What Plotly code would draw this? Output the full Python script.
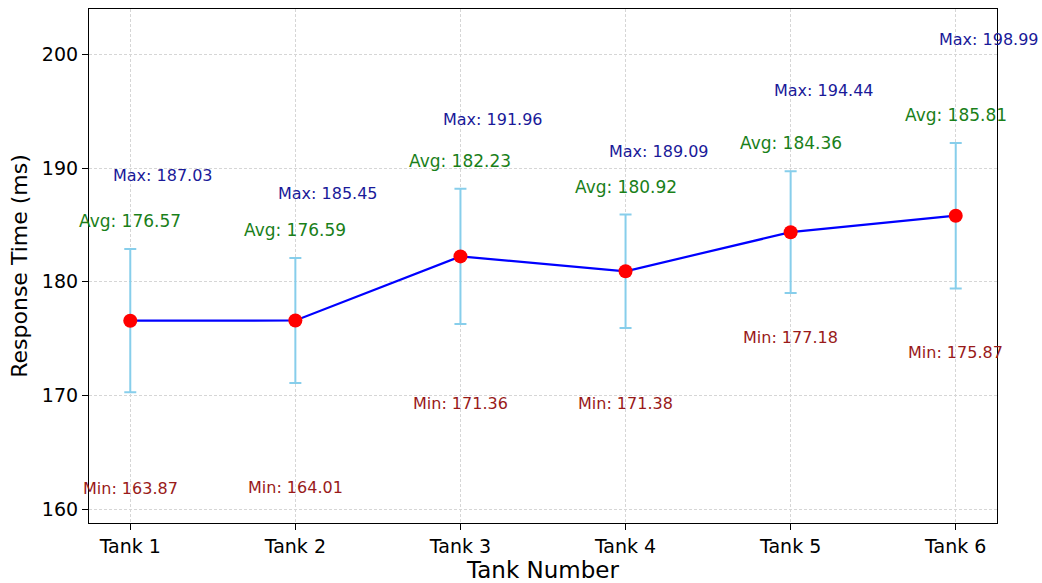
import plotly.graph_objects as go

tanks = ["Tank 1", "Tank 2", "Tank 3", "Tank 4", "Tank 5", "Tank 6"]
avg_vals = [176.57, 176.59, 182.23, 180.92, 184.36, 185.81]
std_vals = [6.3, 5.5, 5.95, 5.0, 5.36, 6.4]
max_vals = [187.03, 185.45, 191.96, 189.09, 194.44, 198.99]
min_vals = [163.87, 164.01, 171.36, 171.38, 177.18, 175.87]
y_ticks = [160, 170, 180, 190, 200]

xs = list(range(len(tanks)))
FONT = "DejaVu Sans"

fig = go.Figure()
fig.add_trace(go.Scatter(
    x=xs, y=avg_vals, mode="lines+markers",
    line=dict(color="#0000ff", width=2.2),
    marker=dict(color="#ff0000", size=14),
    error_y=dict(type="data", array=std_vals, visible=True,
                 color="#87CEEB", thickness=2, width=6),
    showlegend=False,
))

annotations = []
for i in xs:
    annotations.append(dict(x=i + 0.2, y=max_vals[i] + 2.35, text=f"Max: {max_vals[i]:.2f}",
                            showarrow=False, xanchor="center", yanchor="middle",
                            font=dict(family=FONT, size=16, color="#1a1a99")))
    annotations.append(dict(x=i, y=avg_vals[i] + std_vals[i] + 2.45, text=f"Avg: {avg_vals[i]:.2f}",
                            showarrow=False, xanchor="center", yanchor="middle",
                            font=dict(family=FONT, size=17, color="#1a801a")))
    annotations.append(dict(x=i, y=min_vals[i] - 2.1, text=f"Min: {min_vals[i]:.2f}",
                            showarrow=False, xanchor="center", yanchor="middle",
                            font=dict(family=FONT, size=16, color="#991a1a")))

grid = dict(showgrid=True, gridcolor="#d6d6d6", griddash="3px,2px", gridwidth=0.8)

fig.update_layout(
    width=1042, height=583,
    margin=dict(l=89, r=45, t=8, b=58),
    paper_bgcolor="white", plot_bgcolor="white",
    font=dict(family=FONT, color="black"),
    annotations=annotations,
    xaxis=dict(
        range=[-0.25, 5.25], tickvals=xs, ticktext=tanks,
        tickfont=dict(size=19, family=FONT),
        title=dict(text="Tank Number", font=dict(size=23, family=FONT), standoff=2),
        showline=True, linecolor="black", linewidth=1.2, mirror=True,
        ticks="outside", ticklen=6, tickcolor="black",
        zeroline=False, **grid,
    ),
    yaxis=dict(
        range=[158.77, 204.0], tickvals=y_ticks,
        tickfont=dict(size=19, family=FONT),
        title=dict(text="Response Time (ms)", font=dict(size=22, family=FONT), standoff=8),
        showline=True, linecolor="black", linewidth=1.2, mirror=True,
        ticks="outside", ticklen=6, tickcolor="black",
        zeroline=False, **grid,
    ),
)

fig.write_html("out.html")
